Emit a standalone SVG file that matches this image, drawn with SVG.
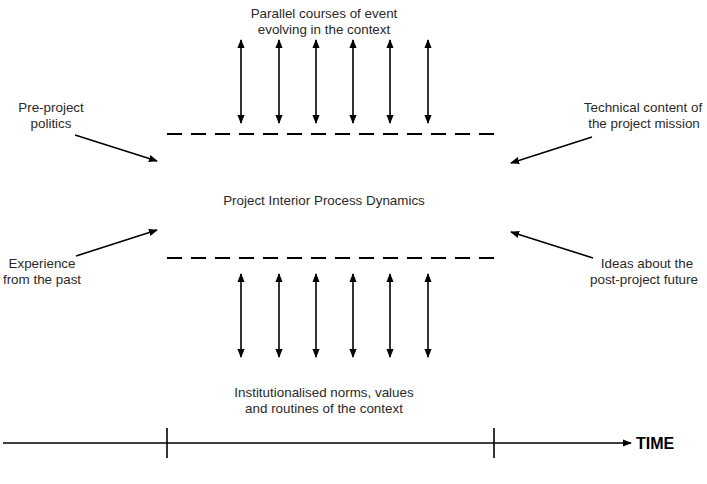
<svg xmlns="http://www.w3.org/2000/svg" width="707" height="484" viewBox="0 0 707 484">
<style>
text{font-family:"Liberation Sans",Arial,sans-serif;font-size:13.4px;fill:#2a2a2a;text-anchor:middle}
.a{stroke:#000;stroke-width:1.6;fill:none}
.d{stroke:#000;stroke-width:2;stroke-dasharray:15 9;fill:none}
.t{stroke:#000;stroke-width:1.6;fill:none}
</style>
<defs>
<marker id="ah2" viewBox="0 0 10 10" refX="9" refY="5" markerWidth="9" markerHeight="9" orient="auto-start-reverse" markerUnits="userSpaceOnUse">
<path d="M0,1 L10,5 L0,9 Z" fill="#000"/>
</marker>
</defs>
<g id="top-label"><text x="324" y="18">Parallel courses of event</text><text x="324" y="34">evolving in the context</text></g>
<g id="center-label"><text x="324" y="205">Project Interior Process Dynamics</text></g>
<g id="bottom-label"><text x="324" y="397">Institutionalised norms, values</text><text x="324" y="413">and routines of the context</text></g>
<g id="pre-project"><text x="51" y="112">Pre-project</text><text x="51" y="128">politics</text></g>
<g id="experience"><text x="42" y="268">Experience</text><text x="42" y="284">from the past</text></g>
<g id="technical"><text x="643" y="112">Technical content of</text><text x="644" y="128">the project mission</text></g>
<g id="ideas"><text x="647" y="268">Ideas about the</text><text x="644" y="284">post-project future</text></g>
<g id="boundaries">
<line class="d" x1="167" y1="134" x2="496" y2="134"/>
<line class="d" x1="167" y1="258" x2="496" y2="258"/>
</g>
<g id="connectors">
<g marker-start="url(#ah2)" marker-end="url(#ah2)" class="a">
<line x1="241" y1="40" x2="241" y2="123"/>
<line x1="279" y1="40" x2="279" y2="123"/>
<line x1="316" y1="40" x2="316" y2="123"/>
<line x1="353" y1="40" x2="353" y2="123"/>
<line x1="390" y1="40" x2="390" y2="123"/>
<line x1="428" y1="40" x2="428" y2="123"/>
<line x1="241" y1="274" x2="241" y2="357"/>
<line x1="279" y1="274" x2="279" y2="357"/>
<line x1="316" y1="274" x2="316" y2="357"/>
<line x1="353" y1="274" x2="353" y2="357"/>
<line x1="390" y1="274" x2="390" y2="357"/>
<line x1="428" y1="274" x2="428" y2="357"/>
</g>
<g marker-end="url(#ah2)" class="a">
<line x1="75" y1="135" x2="157" y2="161"/>
<line x1="76" y1="256" x2="157" y2="230"/>
<line x1="592" y1="137" x2="511" y2="163"/>
<line x1="593" y1="258" x2="511" y2="232"/>
</g>
</g>
<g id="timeline">
<line class="t" x1="3" y1="443" x2="631" y2="443" marker-end="url(#ah2)"/>
<line class="t" x1="167" y1="428" x2="167" y2="458"/>
<line class="t" x1="494" y1="428" x2="494" y2="458"/>
<text x="636" y="449" style="text-anchor:start;font-weight:bold;font-size:16px;fill:#000">TIME</text>
</g>
</svg>
